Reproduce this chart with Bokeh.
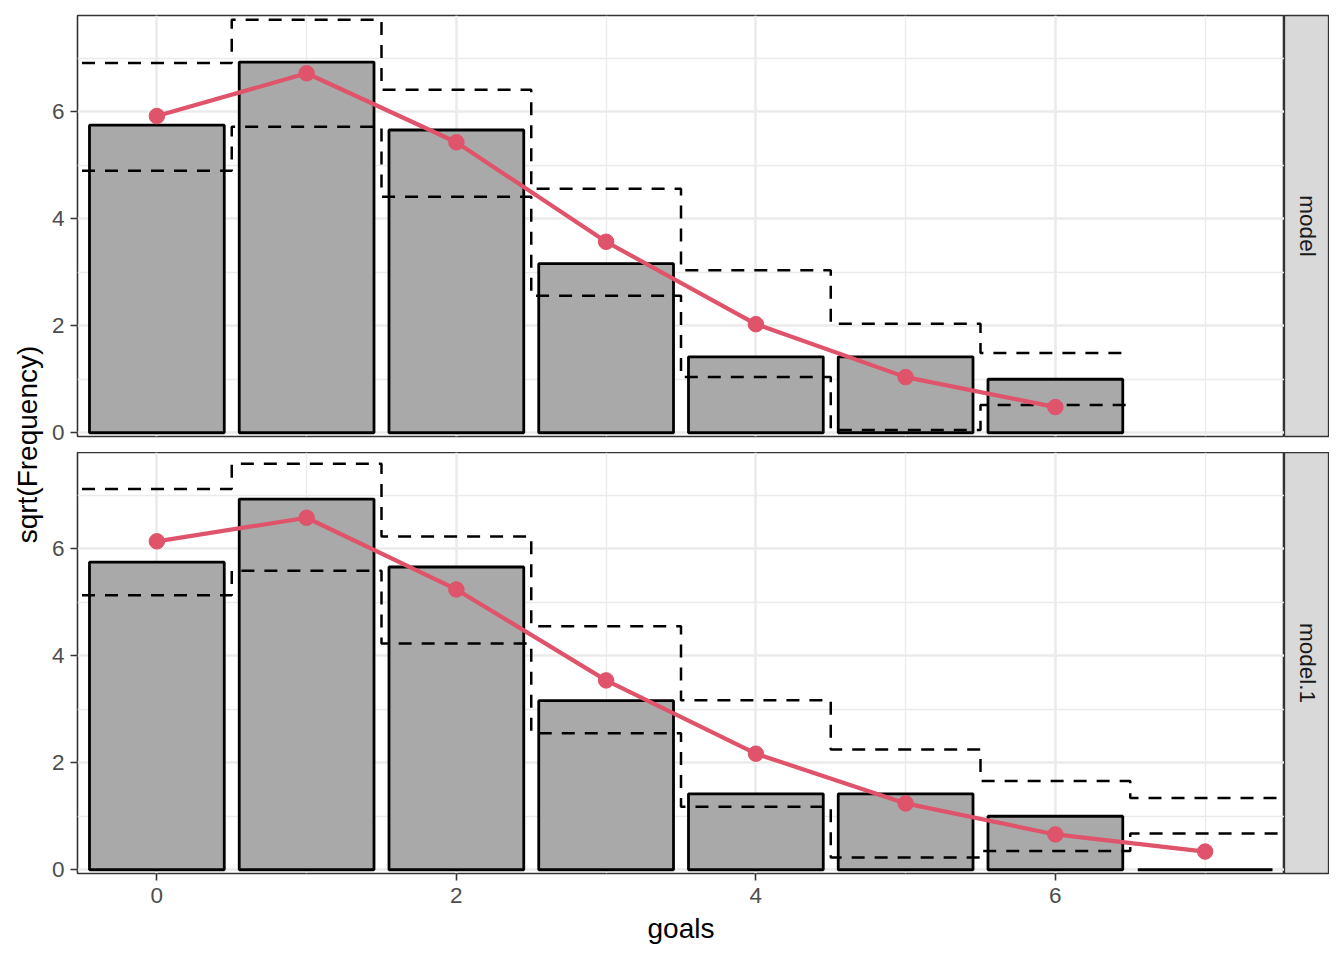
import numpy as np
from bokeh.plotting import figure
from bokeh.layouts import row, column
from bokeh.models import Range1d, FixedTicker
from bokeh.embed import file_html
from bokeh.resources import INLINE
from bokeh.core.properties import value

# ---------------- data ----------------
panels = ["model", "model.1"]

goals_obs_top = [0, 1, 2, 3, 4, 5, 6]
goals_obs_bot = [0, 1, 2, 3, 4, 5, 6, 7]
sqrt_obs_top = [5.75, 6.93, 5.66, 3.16, 1.42, 1.42, 1.0]
sqrt_obs_bot = [5.75, 6.93, 5.66, 3.16, 1.42, 1.42, 1.0, 0.0]

goals_fit_top = [0, 1, 2, 3, 4, 5, 6]
fit_top = [5.92, 6.72, 5.43, 3.57, 2.03, 1.04, 0.48]
upper_top = [6.91, 7.72, 6.41, 4.56, 3.04, 2.04, 1.49]
lower_top = [4.90, 5.72, 4.41, 2.56, 1.04, 0.05, 0.52]

goals_fit_bot = [0, 1, 2, 3, 4, 5, 6, 7]
fit_bot = [6.14, 6.58, 5.24, 3.54, 2.17, 1.24, 0.66, 0.34]
upper_bot = [7.12, 7.59, 6.23, 4.55, 3.17, 2.25, 1.66, 1.34]
lower_bot = [5.13, 5.59, 4.23, 2.55, 1.18, 0.23, 0.35, 0.68]

x_ticks = [0, 2, 4, 6]
x_minor = [1, 3, 5, 7]
y_ticks = [0, 2, 4, 6]
y_minor = [1, 3, 5, 7]

FONT = "Liberation Sans"
RED = "#DF536B"


def make_panel(gx, gy, fx, fy, up, lo, show_x, height, mb_top, mb_bottom):
    p = figure(width=1240, height=height,
               x_range=Range1d(-0.53, 7.53), y_range=Range1d(-0.07, 7.80),
               output_backend="svg", toolbar_location=None,
               min_border_left=33, min_border_right=0,
               min_border_top=mb_top, min_border_bottom=mb_bottom)
    p.background_fill_color = "white"
    p.border_fill_color = "white"
    p.outline_line_color = "#333333"
    p.outline_line_width = 1.6

    xt = FixedTicker(ticks=x_ticks, minor_ticks=x_minor)
    yt = FixedTicker(ticks=y_ticks, minor_ticks=y_minor)
    p.xaxis.ticker = xt
    p.yaxis.ticker = yt
    p.xgrid.ticker = xt
    p.ygrid.ticker = yt
    for g in (p.xgrid, p.ygrid):
        g.grid_line_color = "#EBEBEB"
        g.grid_line_width = 2.6
        g.minor_grid_line_color = "#EBEBEB"
        g.minor_grid_line_width = 1.3

    for ax in (p.xaxis, p.yaxis):
        ax.axis_line_color = None
        ax.major_tick_line_color = "#333333"
        ax.major_tick_line_width = 1.6
        ax.major_tick_in = 0
        ax.major_tick_out = 7
        ax.minor_tick_line_color = None
        ax.major_label_text_font = FONT
        ax.major_label_text_font_size = "22.5px"
        ax.major_label_text_color = "#4D4D4D"
    p.yaxis.major_label_standoff = 6
    p.xaxis.major_label_standoff = 7

    if show_x:
        p.xaxis.axis_label = "goals"
        p.xaxis.axis_label_text_font = FONT
        p.xaxis.axis_label_text_font_size = "28px"
        p.xaxis.axis_label_text_font_style = "normal"
        p.xaxis.axis_label_text_color = "black"
        p.xaxis.axis_label_standoff = 7
    else:
        p.xaxis.visible = False

    p.vbar(x=gx, top=gy, bottom=0, width=0.9, fill_color="#A9A9A9",
           line_color="black", line_width=2.8)

    edges = list(np.array(fx, dtype=float) - 0.5) + [fx[-1] + 0.5]
    p.step(x=edges, y=list(up) + [up[-1]], mode="after", line_color="black",
           line_width=2.5, line_dash="13 10")
    p.step(x=edges, y=list(lo) + [lo[-1]], mode="after", line_color="black",
           line_width=2.5, line_dash="13 10")

    p.line(x=fx, y=fy, line_color=RED, line_width=4.2)
    p.scatter(x=fx, y=fy, size=15.5, fill_color=RED, line_color=RED)
    return p


def make_strip(label, height, mb_top, mb_bottom):
    s = figure(width=45, height=height, x_range=Range1d(0, 1), y_range=Range1d(0, 1),
               x_axis_type=None, y_axis_type=None, output_backend="svg",
               toolbar_location=None, min_border_left=0, min_border_right=0,
               min_border_top=mb_top, min_border_bottom=mb_bottom)
    s.grid.visible = False
    s.background_fill_color = "#D9D9D9"
    s.border_fill_color = "white"
    s.outline_line_color = "#333333"
    s.outline_line_width = 1.3
    s.text(x=[0.5], y=[0.5], text=[label], angle=-np.pi / 2,
           text_align="center", text_baseline="middle",
           text_font=value(FONT), text_font_size="22.5px", text_color="#1A1A1A")
    return s


top = make_panel(goals_obs_top, sqrt_obs_top, goals_fit_top, fit_top,
                 upper_top, lower_top, False, 452, 15, 16)
bot = make_panel(goals_obs_bot, sqrt_obs_bot, goals_fit_bot, fit_bot,
                 upper_bot, lower_bot, True, 500, 0, 79)
s_top = make_strip(panels[0], 452, 15, 16)
s_bot = make_strip(panels[1], 500, 0, 79)

ylab = figure(width=44, height=952, x_range=Range1d(0, 44), y_range=Range1d(0, 952),
              x_axis_type=None, y_axis_type=None, output_backend="svg",
              toolbar_location=None, min_border=0)
ylab.grid.visible = False
ylab.outline_line_color = None
ylab.text(x=[27], y=[952 - 444], text=["sqrt(Frequency)"], angle=np.pi / 2,
          text_align="center", text_baseline="middle",
          text_font=value(FONT), text_font_size="28px", text_color="black")

layout = row(ylab, column(row(top, s_top), row(bot, s_bot)))

open("out.html", "w").write(file_html(layout, INLINE))
